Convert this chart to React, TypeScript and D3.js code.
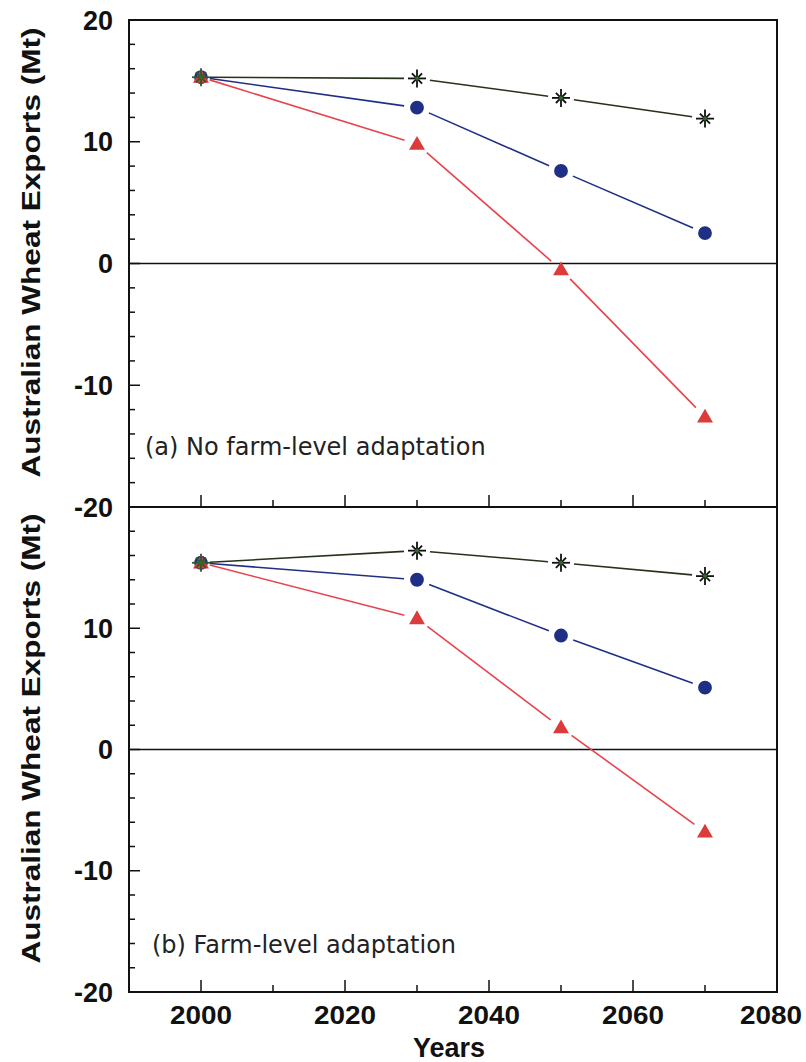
import React, { useEffect, useRef } from "react";
import * as d3 from "d3";

// data
const years = [2000, 2030, 2050, 2070];
const panelLabels = ["(a) No farm-level adaptation", "(b) Farm-level adaptation"];

const noAdaptStar = [15.3, 15.2, 13.6, 11.9];
const noAdaptCircle = [15.3, 12.8, 7.6, 2.5];
const noAdaptTriangle = [15.3, 9.8, -0.5, -12.6];

const adaptStar = [15.4, 16.4, 15.4, 14.3];
const adaptCircle = [15.4, 14.0, 9.4, 5.1];
const adaptTriangle = [15.4, 10.8, 1.8, -6.8];

const xTickLabels = [2000, 2020, 2040, 2060, 2080];
const yTickLabelsTop = [20, 10, 0, -10, -20];
const yTickLabelsBottom = [10, 0, -10, -20];

const W = 806, H = 1062;
const left = 129, right = 777;
const panels = [
  { top: 20, bottom: 507, series: [noAdaptStar, noAdaptCircle, noAdaptTriangle], labelY: 455, labelX: 145, ticks: yTickLabelsTop },
  { top: 507, bottom: 992, series: [adaptStar, adaptCircle, adaptTriangle], labelY: 953, labelX: 152, ticks: yTickLabelsBottom },
];

const seriesStyle = [
  { color: "#26321a", kind: "star" },
  { color: "#1f2f85", kind: "circle" },
  { color: "#e8434c", kind: "triangle" },
];

const App = () => {
  const ref = useRef<SVGSVGElement | null>(null);

  useEffect(() => {
    const svg = d3.select(ref.current);
    svg.selectAll("*").remove();

    const x = d3.scaleLinear().domain([1990, 2080]).range([left, right]);
    const axisFont = "'Liberation Sans', Arial, sans-serif";

    panels.forEach((p, pi) => {
      const y = d3.scaleLinear().domain([-20, 20]).range([p.bottom, p.top]);
      const g = svg.append("g");

      // zero line
      g.append("line")
        .attr("x1", left).attr("x2", right)
        .attr("y1", y(0)).attr("y2", y(0))
        .attr("stroke", "#111").attr("stroke-width", 1.6);

      // y ticks inside frame
      d3.range(-20, 21, 2).forEach((v) => {
        const major = v % 10 === 0;
        g.append("line")
          .attr("x1", left).attr("x2", left + (major ? 11 : 6))
          .attr("y1", y(v)).attr("y2", y(v))
          .attr("stroke", "#111").attr("stroke-width", 1.5);
      });

      // x ticks at panel bottom
      d3.range(2000, 2080, 10).forEach((v) => {
        const major = v % 20 === 0;
        g.append("line")
          .attr("x1", x(v)).attr("x2", x(v))
          .attr("y1", p.bottom).attr("y2", p.bottom - (major ? 12 : 7))
          .attr("stroke", "#111").attr("stroke-width", 1.5);
      });

      // y tick labels
      p.ticks.forEach((v) => {
        g.append("text")
          .attr("x", 113).attr("y", y(v))
          .attr("dy", "0.36em")
          .attr("text-anchor", "end")
          .attr("font-family", axisFont)
          .attr("font-weight", "bold")
          .attr("font-size", 27)
          .attr("fill", "#111")
          .text(v);
      });

      // y title
      const cy = (p.top + p.bottom) / 2 - 11;
      g.append("text")
        .attr("transform", `translate(40,${cy}) rotate(-90)`)
        .attr("text-anchor", "middle")
        .attr("font-family", axisFont)
        .attr("font-weight", "bold")
        .attr("font-size", 26)
        .attr("textLength", 450)
        .attr("lengthAdjust", "spacingAndGlyphs")
        .attr("fill", "#111")
        .text("Australian Wheat Exports (Mt)");

      // panel label
      g.append("text")
        .attr("x", p.labelX).attr("y", p.labelY)
        .attr("font-family", "'DejaVu Sans', Verdana, sans-serif")
        .attr("font-size", 24)
        .attr("fill", "#222")
        .text(panelLabels[pi]);

      // lines with gaps around markers
      p.series.forEach((vals, si) => {
        const st = seriesStyle[si];
        const pts = years.map((yr, i) => [x(yr), y(vals[i])] as [number, number]);
        for (let i = 0; i < pts.length - 1; i++) {
          const [x0, y0] = pts[i], [x1, y1] = pts[i + 1];
          const len = Math.hypot(x1 - x0, y1 - y0);
          const ux = (x1 - x0) / len, uy = (y1 - y0) / len;
          const gap0 = i === 0 ? 9 : 13, gap1 = 13;
          g.append("line")
            .attr("x1", x0 + ux * gap0).attr("y1", y0 + uy * gap0)
            .attr("x2", x1 - ux * gap1).attr("y2", y1 - uy * gap1)
            .attr("stroke", st.color)
            .attr("stroke-width", 1.6);
        }
      });

      // markers, drawn so that star sits on top at 2000
      [1, 2, 0].forEach((si) => {
        const st = seriesStyle[si];
        const vals = p.series[si];
        years.forEach((yr, i) => {
          const cx = x(yr), cyv = y(vals[i]);
          if (st.kind === "circle") {
            g.append("path")
              .attr("d", d3.symbol().type(d3.symbolCircle).size(150)())
              .attr("transform", `translate(${cx},${cyv})`)
              .attr("fill", st.color);
          } else if (st.kind === "triangle") {
            g.append("path")
              .attr("d", d3.symbol().type(d3.symbolTriangle).size(110)())
              .attr("transform", `translate(${cx},${cyv + 1})`)
              .attr("fill", "#dc3b3b");
          } else {
            const r = 9;
            const star = g.append("g").attr("transform", `translate(${cx},${cyv})`);
            [0, 45, 90, 135].forEach((a) => {
              const rad = (a * Math.PI) / 180;
              const rr = a % 90 === 0 ? r : r * 0.8;
              star.append("line")
                .attr("x1", -Math.cos(rad) * rr).attr("y1", -Math.sin(rad) * rr)
                .attr("x2", Math.cos(rad) * rr).attr("y2", Math.sin(rad) * rr)
                .attr("stroke", i === 0 ? "#2d5a2a" : "#111")
                .attr("stroke-width", 1.8);
            });
            star.append("circle").attr("r", 2).attr("fill", "#2f6b2a");
          }
        });
      });

      // frame
      g.append("rect")
        .attr("x", left).attr("y", p.top)
        .attr("width", right - left).attr("height", p.bottom - p.top)
        .attr("fill", "none")
        .attr("stroke", "#111")
        .attr("stroke-width", 2);
    });

    // x tick labels (last one kept inside the page)
    xTickLabels.forEach((v) => {
      svg.append("text")
        .attr("x", Math.min(x(v), W - 35)).attr("y", 1024)
        .attr("text-anchor", "middle")
        .attr("font-family", axisFont)
        .attr("font-weight", "bold")
        .attr("font-size", 25)
        .attr("textLength", 62)
        .attr("lengthAdjust", "spacingAndGlyphs")
        .attr("fill", "#111")
        .text(v);
    });

    svg.append("text")
      .attr("x", 449).attr("y", 1057)
      .attr("text-anchor", "middle")
      .attr("font-family", axisFont)
      .attr("font-weight", "bold")
      .attr("font-size", 27)
      .attr("fill", "#111")
      .text("Years");
  }, []);

  return (
    <svg
      ref={ref}
      width={W}
      height={H}
      style={{ position: "absolute", left: 0, top: 0, background: "#fff" }}
    />
  );
};

export default App;
